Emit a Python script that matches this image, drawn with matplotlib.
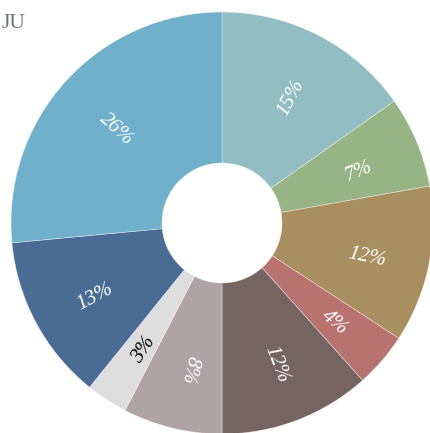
import numpy as np
import matplotlib
matplotlib.use("Agg")
import matplotlib.pyplot as plt

title = "JU"
values = [15.2, 7.0, 12.0, 4.2, 11.6, 7.6, 3.2, 12.7, 26.5]
labels = ["15%", "7%", "12%", "4%", "12%", "8%", "3%", "13%", "26%"]
colors = ["#92BDC2", "#96B484", "#A98F60", "#B87371", "#766462",
          "#B0A3A5", "#DDDDDD", "#4A6C94", "#71B0CB"]
text_colors = ["white", "white", "white", "white", "white",
               "white", "black", "white", "white"]

W, H = 430, 433
fig = plt.figure(figsize=(W / 100, H / 100), dpi=100)
ax = fig.add_axes([0, 0, 1, 1])

cx, cy = 222, H - 223
r_out, r_in = 211, 60

ax.pie(values, colors=colors, startangle=90, counterclock=False,
       center=(cx, cy), radius=r_out, frame=True,
       wedgeprops=dict(width=r_out - r_in, edgecolor=(1, 1, 1, 0.5), linewidth=0.5))
ax.set_xlim(0, W)
ax.set_ylim(0, H)
ax.set_aspect("equal")
ax.axis("off")

total = float(sum(values))
start = 90.0
r_lab = 146
lx, ly = cx + 2, cy - 5
for i, (v, lab) in enumerate(zip(values, labels)):
    span = v / total * 360.0
    mid = start - span / 2
    start -= span
    x = lx + r_lab * np.cos(np.radians(mid))
    y = ly + r_lab * np.sin(np.radians(mid))
    rot = mid % 360
    if 90 < rot < 270:
        rot -= 180
    elif rot >= 270:
        rot -= 360
    if lab == "8%":
        rot -= 180
    ax.text(x, y, lab, rotation=rot, rotation_mode="anchor",
            ha="center", va="center", color=text_colors[i],
            fontsize=15, family="Liberation Serif", style="italic")

fig.text(1 / W, 1 - 14 / H, title, ha="left", va="top", fontsize=15.5,
         color="#6e7079", family="Liberation Serif")

fig.savefig("out.png", dpi=100)
